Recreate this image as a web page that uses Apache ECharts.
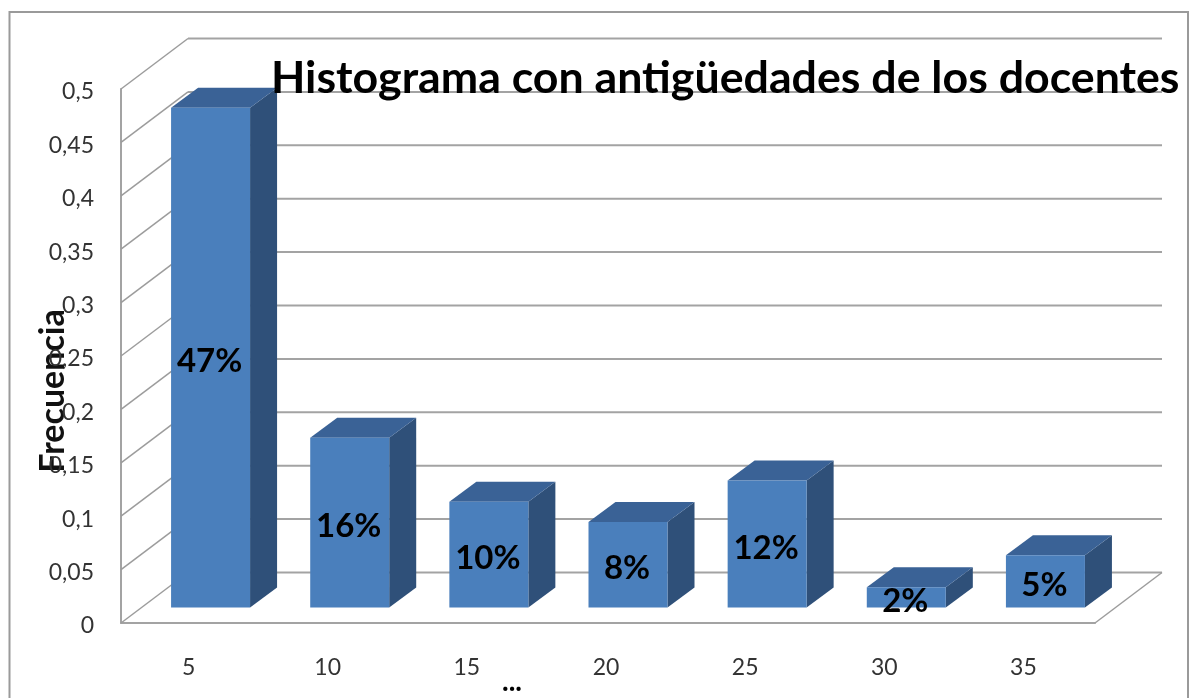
<!DOCTYPE html>
<html><head><meta charset="utf-8">
<script src="https://cdn.jsdelivr.net/npm/echarts@6/dist/echarts.min.js"></script>
<style>html,body{margin:0;padding:0;background:#fff}#c{width:1197px;height:698px}</style>
</head><body><div id="c"></div>
<script>
const categories = ['5','10','15','20','25','30','35'];
const frecuencia = [0.468,0.159,0.099,0.08,0.119,0.019,0.049];
const etiquetas = ['47%','16%','10%','8%','12%','2%','5%'];
const ticks = [0,0.05,0.1,0.15,0.2,0.25,0.3,0.35,0.4,0.45,0.5];
const titulo = 'Histograma con antigüedades de los docentes';
const ejeY = 'Frecuencia';
const ejeX = '...';

const FONT = 'Lato, "Open Sans", sans-serif';
const WALL = [67,-50.5], BAR_OFF = [20,-15.5], BAR_DEPTH = [27,-20], BAR_HALF = 39.5;
const chart = echarts.init(document.getElementById('c'), null, {renderer:'canvas'});
const lineStyle = {stroke:'#a3a3a3', lineWidth:2, fill:null};

function wallItem(params, api){
  const cs = params.coordSys, v = api.value(1), y = api.coord([0,v])[1];
  const x0 = cs.x, x1 = cs.x + cs.width;
  const children = [{type:'polyline', shape:{points:[[x0,y],[x0+WALL[0],y+WALL[1]]]}, style:{stroke:'#9c9c9c',lineWidth:1.5,fill:null}},
    {type:'polyline', shape:{points:[[x0+WALL[0],y+WALL[1]],[x1+WALL[0],y+WALL[1]]]}, style:lineStyle}];
  if (v === 0) children.push({type:'polyline', shape:{points:[[x1,y],[x1+WALL[0],y+WALL[1]]]}, style:{stroke:'#9c9c9c',lineWidth:1.5,fill:null}});
  return {type:'group', children};
}
function barItem(params, api){
  const p = api.coord([api.value(0), api.value(1)]), b = api.coord([api.value(0), 0]);
  const L = p[0]+BAR_OFF[0]-BAR_HALF, R = p[0]+BAR_OFF[0]+BAR_HALF;
  const T = p[1]+BAR_OFF[1], B = b[1]+BAR_OFF[1];
  const dx = BAR_DEPTH[0], dy = BAR_DEPTH[1];
  return {type:'group', children:[
    {type:'polygon', shape:{points:[[R,T],[R+dx,T+dy],[R+dx,B+dy],[R,B]]}, style:{fill:'#2f5079'}},
    {type:'polygon', shape:{points:[[L,T],[L+dx,T+dy],[R+dx,T+dy],[R,T]]}, style:{fill:'#3a6296'}},
    {type:'rect', shape:{x:L,y:T,width:R-L,height:B-T}, style:{fill:'#4a7fbc'}},
    {type:'text', x:(L+R)/2-1, y:(T+B)/2+4, style:{text:etiquetas[params.dataIndex], fill:'#000', font:'bold 33px '+FONT, align:'center', verticalAlign:'middle'}}
  ]};
}

chart.setOption({
  animation:false,
  backgroundColor:'#fff',
  title:{text:titulo, left:266, top:51, textStyle:{fontFamily:FONT, fontWeight:'bold', fontSize:44.7, color:'#000'}, z:20},
  grid:{left:121, right:102, top:89, bottom:75, outerBoundsMode:'none'},
  xAxis:{type:'category', data:categories,
    axisLine:{show:true, lineStyle:{color:'#a3a3a3', width:2}}, axisTick:{show:false},
    axisLabel:{margin:33, fontFamily:FONT, fontSize:23, color:'#333', padding:[0,4,0,0], formatter:(v)=>v},
    name:ejeX, nameLocation:'middle', nameGap:45, nameMoveOverlap:false,
    nameTextStyle:{fontFamily:FONT, fontWeight:'bold', fontSize:28, color:'#000', padding:[0,192,0,0]}},
  yAxis:{type:'value', min:0, max:0.5, interval:0.05,
    axisLine:{show:true, onZero:false, lineStyle:{color:'#a3a3a3', width:2}}, axisTick:{show:false}, splitLine:{show:false},
    axisLabel:{margin:27, fontFamily:FONT, fontSize:23, color:'#333', verticalAlign:'top', lineHeight:6, formatter:(v)=>String(+v.toFixed(2)).replace('.',',')},
    name:ejeY, nameLocation:'middle', nameGap:51, nameRotate:90, nameMoveOverlap:false,
    nameTextStyle:{fontFamily:FONT, fontWeight:'bold', fontSize:34, color:'#111', padding:[0,70,0,0]}},
  graphic:[{type:'polyline', silent:true, z:0, shape:{points:[[9.5,698],[9.5,12],[1188,12],[1188,698]]}, style:{stroke:'#9a9a9a', lineWidth:2, fill:null}}],
  series:[
    {type:'custom', name:'paredes', z:1, silent:true, renderItem:wallItem, data:ticks.map(t=>[0,t]), encode:{x:0,y:1}},
    {type:'custom', name:'frecuencia', z:2, silent:true, renderItem:barItem, data:frecuencia.map((v,i)=>[i,v]), encode:{x:0,y:1}}
  ]
});
</script></body></html>
